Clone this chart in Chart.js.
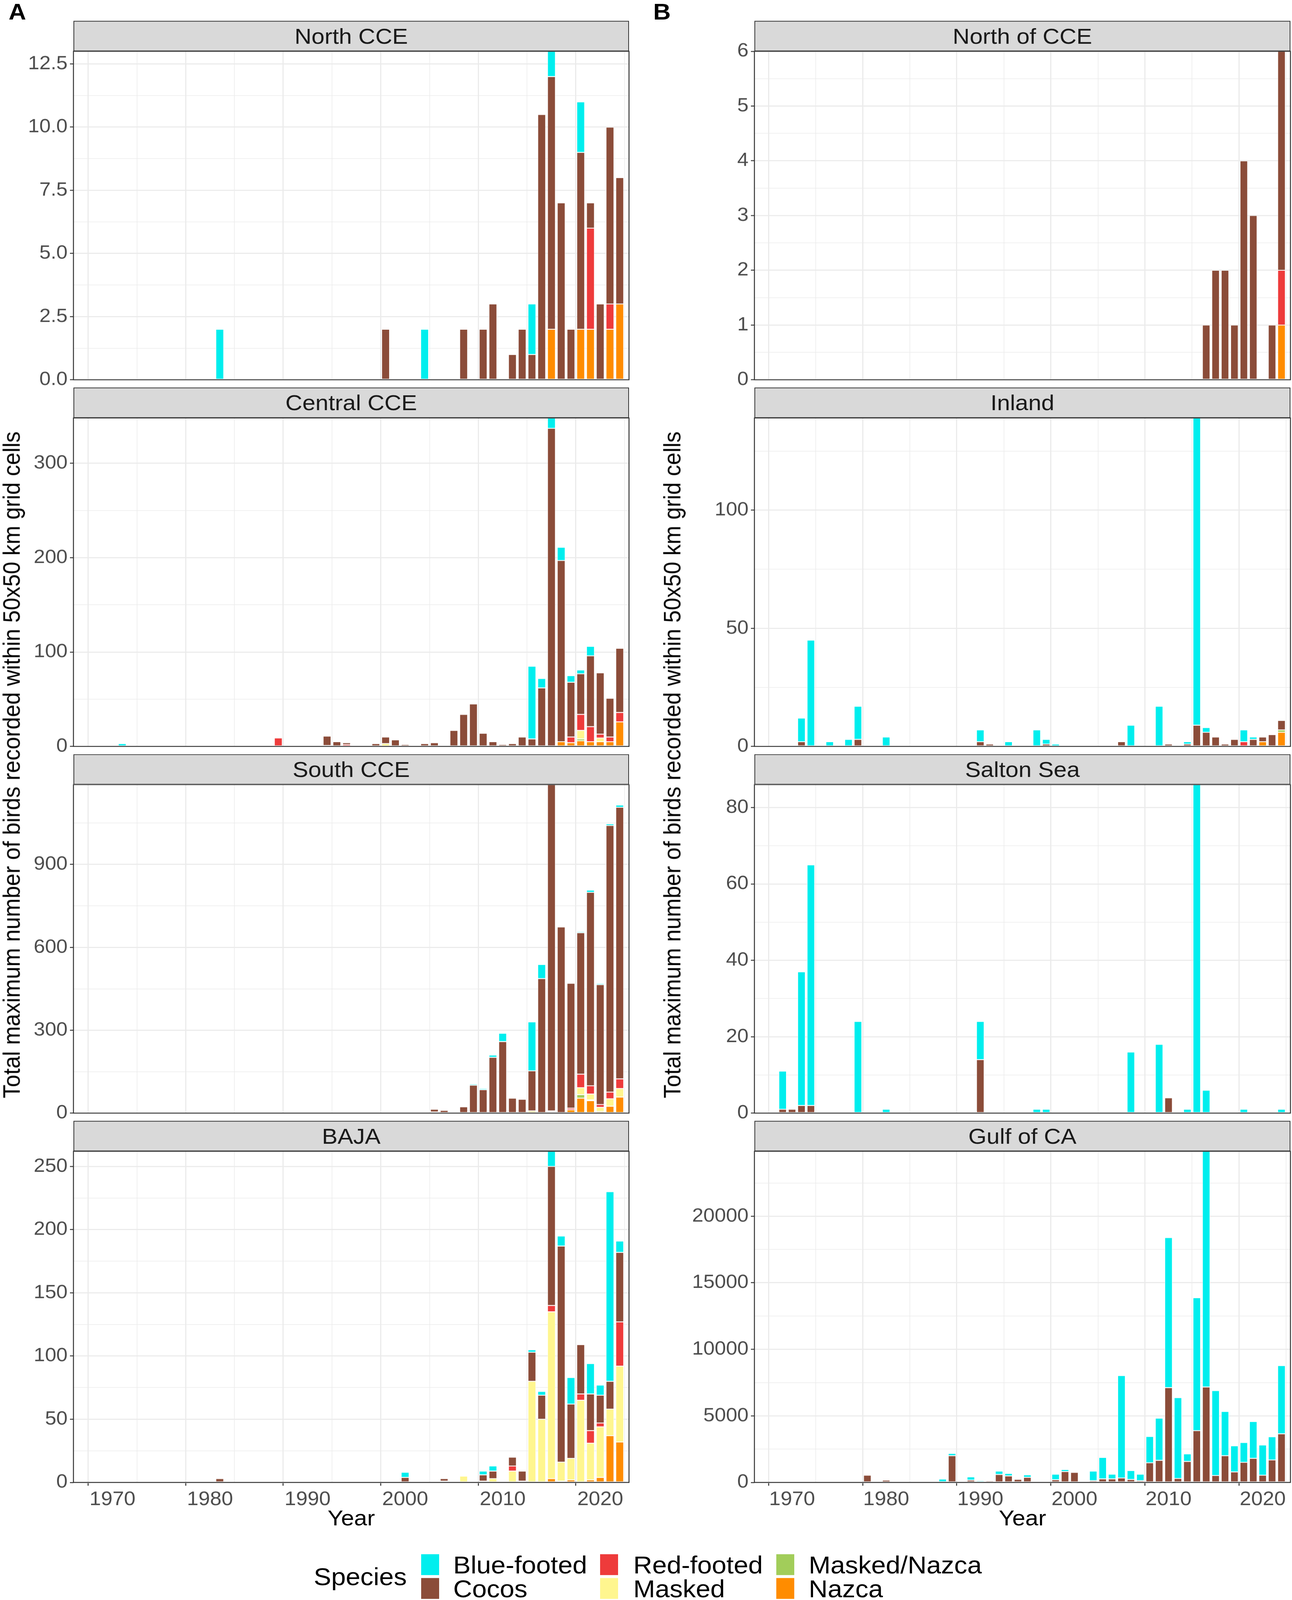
<!DOCTYPE html>
<html>
<head>
<meta charset="utf-8">
<script src="https://cdn.jsdelivr.net/npm/chart.js@4.4.1/dist/chart.umd.min.js"></script>
<style>
  html, body { margin: 0; padding: 0; background: #ffffff; overflow: hidden; }
  #fig { position: absolute; left: 0; top: 0; width: 3307px; height: 4368px; transform-origin: 0 0;
         background: #ffffff; font-family: 'Liberation Sans', Arial, Helvetica, sans-serif; }
  canvas { position: absolute; }
  .strip { position: absolute; box-sizing: border-box; background: #D9D9D9; border: 2.5px solid #333333;
           display: flex; align-items: center; justify-content: center; font-size: 60px; color: #1A1A1A; z-index: 2; }
  .tag { position: absolute; font-weight: bold; font-size: 62px; line-height: 1; color: #000; }
  .ytitle { position: absolute; font-size: 61px; color: #000; white-space: nowrap; line-height: 1;
            transform: translate(-50%, -50%) rotate(-90deg); }
  .xtitle { position: absolute; font-size: 60px; color: #000; white-space: nowrap; line-height: 1;
            transform: translate(-50%, -50%); }
  .key { position: absolute; width: 46px; height: 57px; }
  .ltext { position: absolute; font-size: 67px; line-height: 1; color: #000; white-space: nowrap; transform: translateY(-50%); }
</style>
</head>
<body>
<div id="fig"></div>
<script>
// ---------------- DATA ----------------
const species = ["Blue-footed", "Cocos", "Red-footed", "Masked", "Masked/Nazca", "Nazca"];
const speciesColors = ["#00EEEE", "#8B4C39", "#EE3B3B", "#FFF68F", "#A2CD5A", "#FF8C00"];
const xTickLabels = [1970, 1980, 1990, 2000, 2010, 2020];

const northCCE_years = [1981,1998,2002,2006,2008,2009,2011,2012,2013,2014,2015,2016,2017,2018,2019,2020,2021,2022];
const northCCE_blue  = [2,0,2,0,0,0,0,0,2,0,1,0,0,2,0,0,0,0];
const northCCE_cocos = [0,2,0,2,2,3,1,2,1,10.5,10,7,2,7,1,3,7,5];
const northCCE_red   = [0,0,0,0,0,0,0,0,0,0,0,0,0,0,4,0,1,0];
const northCCE_nazca = [0,0,0,0,0,0,0,0,0,0,2,0,0,2,2,0,2,3];

const centralCCE_years  = [1971,1975,1983,1984,1985,1987,1992,1993,1994,1995,1996,1997,1998,1999,2000,2002,2003,2005,2006,2007,2008,2009,2010,2011,2012,2013,2014,2015,2016,2017,2018,2019,2020,2021,2022];
const centralCCE_blue   = [3,0,0,0,0, 0,0,0,0,0, 0,0,0,0,0, 0,0,0,0,0, 0,0,0,0,0, 77,10,11,14,7, 4,10,0,0,0];
const centralCCE_cocos  = [0,0,1,1,0, 0,10,5,2,1, 1,3,7,7,2, 3,4,17,34,45, 14,5,2,3,10, 8,62,337,192,58, 43,75,65,41,68];
const centralCCE_red    = [0,1,0,0,1, 9,0,0,2,0, 0,0,0,0,0, 0,0,0,0,0, 0,0,0,0,0, 0,0,0,0,6, 17,16,4,5,10];
const centralCCE_masked = [0,0,0,0,0, 0,1,0,0,0, 0,0,3,0,0, 0,0,0,0,0, 0,0,0,0,0, 0,0,0,0,0, 9,0,4,0,0];
const centralCCE_mn     = [0,0,0,0,0, 0,0,0,0,0, 0,0,0,0,0, 0,0,0,0,0, 0,0,0,0,0, 0,0,0,0,0, 2,0,0,0,0];
const centralCCE_nazca  = [0,0,0,0,0, 0,0,0,0,0, 0,0,0,0,0, 0,0,0,0,0, 0,0,0,0,0, 0,0,0,5,4, 6,5,5,5,26];

const southCCE_years  = [1999,2002,2003,2004,2005,2006,2007,2008,2009,2010,2011,2012,2013,2014,2015,2016,2017,2018,2019,2020,2021,2022];
const southCCE_blue   = [0,0,0,0,0, 0,4,4,8,30, 0,0,177,51,0, 0,0,4,8,4, 6,8];
const southCCE_cocos  = [4,0,10,10,3, 23,101,85,202,259, 54,50,145,487,1181, 674,452,512,700,434, 965,983];
const southCCE_red    = [0,0,0,0,0, 0,0,0,0,0, 0,0,0,0,3, 0,6,49,30,10, 24,35];
const southCCE_masked = [0,4,4,0,0, 0,0,0,0,0, 0,0,8,0,0, 0,0,25,21,15, 27,31];
const southCCE_mn     = [0,0,0,0,0, 0,0,0,0,0, 0,0,0,0,0, 0,0,13,3,0, 0,0];
const southCCE_nazca  = [0,0,0,0,0, 0,0,0,0,0, 0,0,0,0,5, 0,12,54,45,6, 25,58];

const baja_years  = [1981,2000,2004,2006,2008,2009,2011,2012,2013,2014,2015,2016,2017,2018,2019,2020,2021,2022];
const baja_blue   = [0,4,0,0,3,4,0,0,2,3,12,8,21,0,24,8,150,9];
const baja_cocos  = [3,4,2,0,5,6,7,8,23,19,110,171,43,39,29,22,22,55];
const baja_red    = [0,0,0,0,0,0,4,0,0,0,5,0,0,5,10,3,0,35];
const baja_masked = [0,0,1,5,1,3,9,1,80,50,132,15,17,65,29,40,21,60];
const baja_nazca  = [0,0,0,0,0,0,0,0,0,0,3,1,2,0,2,4,37,32];

const northOf_years = [2014,2015,2016,2017,2018,2019,2021,2022];
const northOf_cocos = [1,2,2,1,4,3,1,4];
const northOf_red   = [0,0,0,0,0,0,0,1];
const northOf_nazca = [0,0,0,0,0,0,0,1];

const inland_years = [1971,1972,1974,1976,1977,1980,1990,1991,1993,1996,1997,1998,2005,2006,2009,2010,2012,2013,2014,2015,2016,2017,2018,2019,2020,2021,2022];
const inland_blue  = [10,45,2,3,14,4,5,0,2,7,2,1,0,9,17,0,1,130,2,0,0,0,5,1,0,0,0];
const inland_cocos = [2,0,0,0,3,0,2,1,0,0,1,0,2,0,0,1,1,9,6,4,1,3,0,3,2,5,4];
const inland_red   = [0,0,0,0,0,0,0,0,0,0,0,0,0,0,0,0,0,0,0,0,0,0,2,0,0,0,0];
const inland_mn    = [0,0,0,0,0,0,0,0,0,0,0,0,0,0,0,0,0,0,0,0,0,0,0,0,0,0,1];
const inland_nazca = [0,0,0,0,0,0,0,0,0,0,0,0,0,0,0,0,0,0,0,0,0,0,0,0,2,0,6];

const salton_years = [1969,1970,1971,1972,1977,1980,1990,1996,1997,2006,2009,2010,2012,2013,2014,2018,2022];
const salton_blue  = [10,0,35,63,24,1,10,1,1,16,18,0,1,86,6,1,1];
const salton_cocos = [1,1,2,2,0,0,14,0,0,0,0,4,0,0,0,0,0];

const gulf_years = [1978,1980,1981,1986,1987,1989,1990,1991,1992,1993,1994,1995,1997,1998,1999,2000,2001,2002,2003,2004,2005,2006,2007,2008,2009,2010,2011,2012,2013,2014,2015,2016,2017,2018,2019,2020,2021,2022];
const gulf_cocos = [540,170,70,50,2010,170,50,120,600,490,235,385,0,200,820,755,30,130,270,270,335,220,130,1475,1660,7120,300,1575,3890,7170,520,2010,790,1510,1810,540,1690,3655];
const gulf_blue  = [0,0,0,200,170,250,80,0,250,180,0,185,60,420,150,0,0,720,1610,350,7695,670,490,1975,3170,11280,6070,570,9990,17710,6380,3320,1960,1490,2765,2275,1745,5125];

const panels = [
  { title: "North CCE",    col: 0, row: 0, major: 2.5,  dec: 1, years: northCCE_years,
    s: [northCCE_blue, northCCE_cocos, northCCE_red, null, null, northCCE_nazca] },
  { title: "Central CCE",  col: 0, row: 1, major: 100,  dec: 0, years: centralCCE_years,
    s: [centralCCE_blue, centralCCE_cocos, centralCCE_red, centralCCE_masked, centralCCE_mn, centralCCE_nazca] },
  { title: "South CCE",    col: 0, row: 2, major: 300,  dec: 0, years: southCCE_years,
    s: [southCCE_blue, southCCE_cocos, southCCE_red, southCCE_masked, southCCE_mn, southCCE_nazca] },
  { title: "BAJA",         col: 0, row: 3, major: 50,   dec: 0, years: baja_years,
    s: [baja_blue, baja_cocos, baja_red, baja_masked, null, baja_nazca] },
  { title: "North of CCE", col: 1, row: 0, major: 1,    dec: 0, years: northOf_years,
    s: [null, northOf_cocos, northOf_red, null, null, northOf_nazca] },
  { title: "Inland",       col: 1, row: 1, major: 50,   dec: 0, years: inland_years,
    s: [inland_blue, inland_cocos, inland_red, null, inland_mn, inland_nazca] },
  { title: "Salton Sea",   col: 1, row: 2, major: 20,   dec: 0, years: salton_years,
    s: [salton_blue, salton_cocos, null, null, null, null] },
  { title: "Gulf of CA",   col: 1, row: 3, major: 5000, dec: 0, years: gulf_years,
    s: [gulf_blue, gulf_cocos, null, null, null, null] }
];

// ---------------- RENDER ----------------
const FIG_W = 3307, FIG_H = 4368;
const fig = document.getElementById('fig');
(function fitFigure() {
  const vw = window.innerWidth || FIG_W, vh = window.innerHeight || FIG_H;
  const sx = vw / FIG_W, sy = vh / FIG_H;
  fig.style.transform = 'scale(' + sx + ',' + sy + ')';
  document.body.style.width = vw + 'px';
  document.body.style.height = vh + 'px';
})();

const FONT = "'Liberation Sans', Arial, Helvetica, sans-serif";
Chart.defaults.font.family = FONT;
const X_MIN = 1966.0, X_MAX = 2022.95;
const FIRST_YEAR = 1969, LAST_YEAR = 2022;

function isMult(v, step) { const r = v / step; return Math.abs(r - Math.round(r)) < 1e-6; }

function toPoints(years, vals) {
  const m = new Map();
  if (vals) years.forEach((y, i) => { if (vals[i]) m.set(y, vals[i]); });
  const out = [];
  for (let y = FIRST_YEAR; y <= LAST_YEAR; y++) out.push({ x: y, y: m.has(y) ? m.get(y) : null });
  return out;
}

const borderPlugin = {
  id: 'panelBorder',
  afterDraw(chart) {
    const a = chart.chartArea, ctx = chart.ctx;
    ctx.save();
    ctx.strokeStyle = '#333333';
    ctx.lineWidth = 2.5;
    ctx.strokeRect(a.left, a.top, a.right - a.left, a.bottom - a.top);
    ctx.restore();
  }
};

function addDiv(cls, text, styles) {
  const d = document.createElement('div');
  d.className = cls;
  if (text) d.textContent = text;
  Object.assign(d.style, styles);
  fig.appendChild(d);
  return d;
}

const ROW_PITCH = 1001, STRIP_TOP0 = 57, STRIP_H = 83, PLOT_H = 904;

panels.forEach(p => {
  const isLeft = p.col === 0;
  const plotL = isLeft ? 188 : 1931;
  const plotR = isLeft ? 1610 : 3303;
  const canvasL = isLeft ? 0 : 1740;
  const canvasW = isLeft ? 1640 : FIG_W - 1740;
  const stripTop = STRIP_TOP0 + p.row * ROW_PITCH;
  const plotTop = stripTop + STRIP_H;
  const bottom = p.row === 3;
  const padTop = 40, padBottom = bottom ? 10 : 30, xAxisH = bottom ? 80 : 0;
  const canvasH = padTop + PLOT_H + xAxisH + padBottom;

  let yMax = 0;
  p.years.forEach((y, i) => {
    let t = 0; p.s.forEach(arr => { if (arr) t += arr[i]; });
    if (t > yMax) yMax = t;
  });
  const minor = p.major / 2;

  // stacking bottom-to-top: Nazca, Masked/Nazca, Masked, Red-footed, Cocos, Blue-footed
  const order = [5, 4, 3, 2, 1, 0];
  const datasets = order.filter(k => p.s[k]).map(k => ({
    label: species[k],
    data: toPoints(p.years, p.s[k]),
    backgroundColor: speciesColors[k],
    borderColor: '#FFFFFF',
    borderWidth: 1.2,
    borderSkipped: false,
    barPercentage: 0.82,
    categoryPercentage: 1.0
  }));

  const cv = document.createElement('canvas');
  cv.width = canvasW; cv.height = canvasH;
  cv.style.left = canvasL + 'px';
  cv.style.top = (plotTop - padTop) + 'px';
  cv.style.width = canvasW + 'px';
  cv.style.height = canvasH + 'px';
  fig.appendChild(cv);

  new Chart(cv.getContext('2d'), {
    type: 'bar',
    data: { datasets },
    plugins: [borderPlugin],
    options: {
      responsive: false,
      animation: false,
      devicePixelRatio: 1,
      layout: { padding: { top: padTop, bottom: padBottom, left: 0, right: canvasW - (plotR - canvasL) } },
      plugins: { legend: { display: false }, tooltip: { enabled: false } },
      scales: {
        x: {
          type: 'linear', stacked: true, offset: false, min: X_MIN, max: X_MAX,
          border: { display: false },
          afterBuildTicks: s => {
            const t = [];
            for (let y = xTickLabels[0]; y <= xTickLabels[xTickLabels.length - 1]; y += 5) t.push({ value: y });
            s.ticks = t;
          },
          afterFit: s => { s.height = xAxisH; },
          grid: {
            color: '#EBEBEB',
            lineWidth: c => (c.tick && xTickLabels.includes(c.tick.value)) ? 3 : 1.5,
            drawTicks: bottom, tickLength: 9, tickWidth: 2.5,
            tickColor: c => (c.tick && xTickLabels.includes(c.tick.value)) ? '#333333' : 'rgba(0,0,0,0)'
          },
          ticks: {
            display: bottom, autoSkip: false, maxRotation: 0, minRotation: 0, padding: 7,
            color: '#4D4D4D', font: { size: 53, family: FONT },
            callback: v => xTickLabels.includes(v) ? String(v) : ''
          }
        },
        y: {
          type: 'linear', stacked: true, min: 0, max: yMax,
          border: { display: false },
          afterBuildTicks: s => {
            const t = [];
            for (let i = 0; i * minor <= yMax + 1e-9; i++) t.push({ value: +(i * minor).toFixed(6) });
            s.ticks = t;
          },
          afterFit: s => { s.width = plotL - canvasL; },
          grid: {
            color: '#EBEBEB',
            lineWidth: c => (c.tick && isMult(c.tick.value, p.major)) ? 3 : 1.5,
            drawTicks: true, tickLength: 9, tickWidth: 2.5,
            tickColor: c => (c.tick && isMult(c.tick.value, p.major)) ? '#333333' : 'rgba(0,0,0,0)'
          },
          ticks: {
            autoSkip: false, padding: 6, color: '#4D4D4D', font: { size: 52, family: FONT },
            callback: v => isMult(v, p.major) ? v.toFixed(p.dec) : ''
          }
        }
      }
    }
  });

  addDiv('strip', p.title, {
    left: plotL + 'px', top: stripTop + 'px', width: (plotR - plotL) + 'px', height: STRIP_H + 'px'
  });

  if (bottom) {
    addDiv('xtitle', 'Year', { left: ((plotL + plotR) / 2) + 'px', top: '4144px' });
  }
});

addDiv('tag', 'A', { left: '22px', top: '1px' });
addDiv('tag', 'B', { left: '1672px', top: '1px' });

const yTitleText = "Total maximum number of birds recorded within 50x50 km grid cells";
addDiv('ytitle', yTitleText, { left: '30px', top: '2088px' });
addDiv('ytitle', yTitleText, { left: '1721px', top: '2088px' });

addDiv('ltext', 'Species', { left: '803px', top: '4304px' });
const legendCols = [[0, 1], [2, 3], [4, 5]];
const keyX = [1078, 1536, 1987];
const textX = [1160, 1621, 2070];
const rowKeyTop = [4243, 4308];
legendCols.forEach((pair, ci) => {
  pair.forEach((k, ri) => {
    addDiv('key', null, { left: keyX[ci] + 'px', top: rowKeyTop[ri] + 'px', background: speciesColors[k] });
    addDiv('ltext', species[k], { left: textX[ci] + 'px', top: (rowKeyTop[ri] + 29) + 'px' });
  });
});
</script>
</body>
</html>
